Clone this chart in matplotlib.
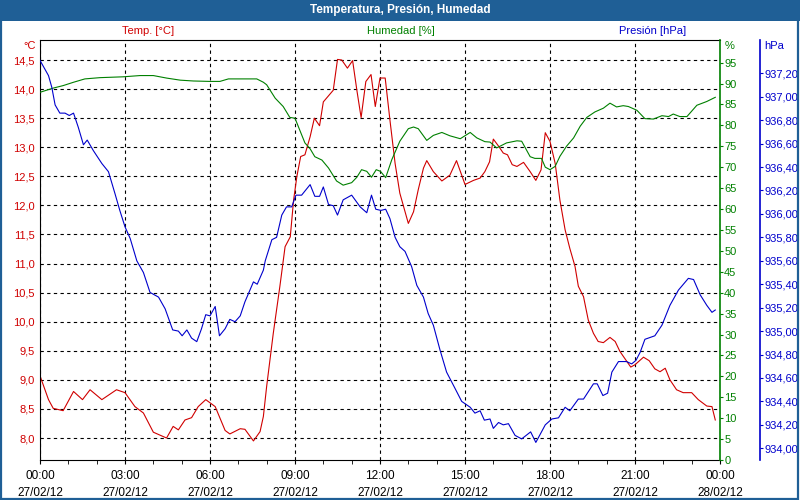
import matplotlib
matplotlib.use("Agg")
import matplotlib.pyplot as plt
from matplotlib.patches import Rectangle
from matplotlib.ticker import FuncFormatter, MultipleLocator

plt.rcParams["font.family"] = ["Liberation Sans", "DejaVu Sans"]

# minutes since 27/02/12 00:00 and readings
temp_min = [0, 18, 28, 49, 71, 90, 106, 131, 162, 180, 201, 219, 240, 268, 282, 293,
            307, 321, 335, 351, 371, 392, 402, 424, 434, 452, 466, 473, 480, 494, 508,
            519, 530, 537, 544, 552, 561, 572, 581, 592, 600, 621, 630, 639, 651, 662,
            671, 680, 690, 701, 710, 720, 731, 741, 752, 762, 780, 791, 801, 812, 819,
            833, 851, 868, 882, 900, 918, 932, 942, 952, 960, 971, 981, 990, 1000, 1010,
            1024, 1038, 1050, 1061, 1070, 1080, 1091, 1101, 1112, 1122, 1133, 1140, 1151,
            1161, 1172, 1182, 1193, 1207, 1218, 1228, 1239, 1251, 1260, 1278, 1290, 1302,
            1313, 1324, 1334, 1348, 1362, 1380, 1394, 1412, 1423, 1430]
temp_val = [9.07, 8.66, 8.51, 8.47, 8.80, 8.66, 8.83, 8.66, 8.83, 8.78, 8.54, 8.43, 8.10,
            8.00, 8.20, 8.14, 8.31, 8.35, 8.54, 8.66, 8.54, 8.13, 8.07, 8.16, 8.15, 7.95,
            8.11, 8.37, 8.89, 9.80, 10.61, 11.29, 11.46, 12.09, 12.50, 12.84, 12.87, 13.18,
            13.50, 13.37, 13.78, 13.98, 14.51, 14.50, 14.36, 14.49, 13.98, 13.51, 14.13,
            14.25, 13.70, 14.19, 14.19, 13.47, 12.72, 12.21, 11.69, 11.89, 12.27, 12.64,
            12.77, 12.58, 12.42, 12.52, 12.77, 12.36, 12.43, 12.47, 12.58, 12.75, 13.14,
            13.02, 12.90, 12.87, 12.70, 12.67, 12.74, 12.58, 12.43, 12.61, 13.25, 13.10,
            12.72, 12.09, 11.58, 11.26, 10.95, 10.61, 10.43, 10.03, 9.80, 9.66, 9.64, 9.73,
            9.66, 9.49, 9.36, 9.22, 9.26, 9.39, 9.33, 9.19, 9.14, 9.20, 9.00, 8.83, 8.78,
            8.78, 8.66, 8.55, 8.54, 8.31]

hum_min = [0, 28, 49, 71, 95, 127, 176, 212, 240, 268, 297, 325, 360, 381, 399, 424, 459,
           473, 480, 498, 515, 529, 540, 551, 561, 572, 582, 597, 611, 628, 642, 660, 671,
           681, 692, 702, 712, 721, 732, 745, 762, 780, 791, 801, 819, 833, 851, 868, 890,
           911, 925, 942, 953, 967, 988, 1010, 1020, 1038, 1048, 1062, 1070, 1080, 1091,
           1101, 1115, 1130, 1144, 1158, 1175, 1193, 1207, 1221, 1235, 1246, 1264, 1281,
           1299, 1317, 1331, 1341, 1355, 1370, 1391, 1412, 1430]
hum_val = [87.9, 88.9, 89.5, 90.3, 91.1, 91.4, 91.6, 91.9, 91.9, 91.3, 90.8, 90.6, 90.5,
           90.5, 91.1, 91.1, 91.1, 90.3, 89.7, 86.5, 84.5, 81.9, 81.7, 78.6, 75.8, 74.4,
           72.5, 71.7, 69.8, 66.7, 65.7, 66.3, 67.6, 69.4, 69.0, 67.6, 69.4, 69.0, 67.5,
           71.8, 76.2, 79.2, 79.6, 79.2, 76.4, 77.6, 78.3, 77.5, 76.8, 78.3, 77.0, 76.1,
           76.0, 74.6, 75.8, 76.3, 76.2, 72.5, 72.1, 72.1, 70.0, 69.4, 70.2, 72.6, 75.0,
           77.0, 79.8, 81.9, 83.2, 84.1, 85.3, 84.4, 84.7, 84.5, 83.6, 81.6, 81.5, 82.3,
           82.1, 82.7, 82.1, 82.1, 84.8, 85.7, 86.7]

pres_min = [0, 18, 25, 32, 42, 53, 62, 71, 81, 92, 100, 113, 131, 145, 159, 169, 180, 191,
            205, 219, 233, 251, 265, 281, 293, 301, 311, 321, 332, 342, 351, 360, 371, 380,
            392, 402, 413, 424, 434, 452, 460, 473, 477, 491, 501, 512, 522, 533, 542, 554,
            572, 582, 592, 600, 611, 621, 630, 642, 660, 678, 692, 702, 711, 722, 732, 741,
            752, 762, 773, 787, 798, 812, 822, 833, 847, 861, 879, 893, 911, 921, 932, 941,
            953, 960, 971, 981, 992, 1006, 1020, 1039, 1050, 1070, 1084, 1098, 1112, 1122,
            1140, 1151, 1172, 1180, 1192, 1202, 1211, 1225, 1242, 1253, 1262, 1271, 1281,
            1302, 1317, 1334, 1352, 1373, 1384, 1398, 1412, 1423, 1430]
pres_val = [937.31, 937.18, 937.08, 936.93, 936.86, 936.86, 936.84, 936.86, 936.74, 936.59,
            936.63, 936.54, 936.43, 936.36, 936.17, 936.03, 935.89, 935.79, 935.60, 935.50,
            935.33, 935.29, 935.19, 935.01, 935.00, 934.96, 935.01, 934.94, 934.91, 935.02,
            935.14, 935.13, 935.21, 934.96, 935.02, 935.10, 935.08, 935.13, 935.25, 935.42,
            935.40, 935.52, 935.60, 935.78, 935.80, 935.99, 936.06, 936.06, 936.16, 936.16,
            936.25, 936.15, 936.15, 936.23, 936.08, 936.07, 935.99, 936.12, 936.16, 936.06,
            936.01, 936.16, 936.04, 936.03, 936.04, 935.96, 935.80, 935.72, 935.68, 935.55,
            935.39, 935.29, 935.15, 935.05, 934.84, 934.65, 934.51, 934.40, 934.35, 934.30,
            934.32, 934.24, 934.25, 934.17, 934.22, 934.20, 934.21, 934.11, 934.08, 934.14,
            934.05, 934.20, 934.25, 934.26, 934.35, 934.32, 934.42, 934.42, 934.55, 934.55,
            934.45, 934.47, 934.65, 934.74, 934.74, 934.72, 934.75, 934.82, 934.93, 934.96,
            935.05, 935.22, 935.35, 935.45, 935.44, 935.31, 935.22, 935.16, 935.18]

x_ticks = [0, 3, 6, 9, 12, 15, 18, 21, 24]
x_labels = ["00:00\n27/02/12", "03:00\n27/02/12", "06:00\n27/02/12", "09:00\n27/02/12",
            "12:00\n27/02/12", "15:00\n27/02/12", "18:00\n27/02/12", "21:00\n27/02/12",
            "00:00\n28/02/12"]

RED = "#d00000"
GREEN = "#008000"
BLUE = "#0000cc"
BAND = "#1f5f96"
FS = 8


def comma(decimals):
    return FuncFormatter(lambda v, p: f"{v:.{decimals}f}".replace(".", ","))


fig = plt.figure(figsize=(8, 5), dpi=100, facecolor="white")

# title band and frame
fig.add_artist(Rectangle((0, 1 - 21 / 500), 1, 21 / 500, transform=fig.transFigure,
                         facecolor=BAND, edgecolor="none"))
fig.add_artist(Rectangle((0.001, 0.002), 0.997, 0.996, transform=fig.transFigure,
                         facecolor="none", edgecolor=BAND, linewidth=1.6))
fig.text(0.5, 1 - 10 / 500, "Temperatura, Presión, Humedad", color="white",
         fontsize=8.5, fontweight="bold", ha="center", va="center")

ax = fig.add_axes([40 / 800, 40 / 500, 680 / 800, 420 / 500])
ax_h = ax.twinx()
ax_p = ax.twinx()
# 40 px to the right of the humidity spine (value is in points)
ax_p.spines["right"].set_position(("outward", 40 * 72 / 100))

# temperature axis
ax.plot([m / 60 for m in temp_min], temp_val, color=RED, linewidth=0.8)
ax.set_xlim(0, 24)
ax.set_ylim(7.622, 14.844)
ax.yaxis.set_major_locator(MultipleLocator(0.5))
ax.yaxis.set_major_formatter(comma(1))
ax.tick_params(axis="y", colors=RED, labelsize=FS, length=0, pad=4)
ax.set_xticks(x_ticks)
ax.set_xticklabels(x_labels, fontsize=8.5, linespacing=1.55)
ax.xaxis.set_minor_locator(MultipleLocator(1))
ax.tick_params(axis="x", which="both", direction="out", length=3, color="black", pad=4.5)
ax.grid(True, color="black", linestyle=(0, (3, 3)), linewidth=0.8)
for s in ("left", "bottom", "top"):
    ax.spines[s].set_color("black")
ax.spines["right"].set_visible(False)

# humidity axis
ax_h.plot([m / 60 for m in hum_min], hum_val, color=GREEN, linewidth=0.8)
ax_h.set_ylim(0, 100.4)
ax_h.set_yticks(range(0, 100, 5))
ax_h.tick_params(axis="y", colors=GREEN, labelsize=FS, direction="out", length=2.5, pad=0.5)
ax_h.spines["right"].set_color(GREEN)
ax_h.spines["right"].set_linewidth(1.2)
for s in ("left", "top", "bottom"):
    ax_h.spines[s].set_visible(False)

# pressure axis
ax_p.plot([m / 60 for m in pres_min], pres_val, color=BLUE, linewidth=0.8)
ax_p.set_ylim(933.90, 937.484)
ax_p.set_yticks([934.0 + 0.2 * i for i in range(17)])
ax_p.yaxis.set_major_formatter(comma(2))
ax_p.tick_params(axis="y", colors=BLUE, labelsize=FS, direction="out", length=2.5, pad=0.5)
ax_p.spines["right"].set_color(BLUE)
ax_p.spines["right"].set_linewidth(1.2)
for s in ("left", "top", "bottom"):
    ax_p.spines[s].set_visible(False)

# unit labels
fig.text(36 / 800, 1 - 46 / 500, "°C", color=RED, fontsize=FS, ha="right", va="center")
fig.text(725 / 800, 1 - 46 / 500, "%", color=GREEN, fontsize=FS, ha="left", va="center")
fig.text(764 / 800, 1 - 46 / 500, "hPa", color=BLUE, fontsize=FS, ha="left", va="center")
fig.text(148 / 800, 1 - 31 / 500, "Temp. [°C]", color=RED, fontsize=FS, ha="center", va="center")
fig.text(401 / 800, 1 - 31 / 500, "Humedad [%]", color=GREEN, fontsize=FS, ha="center", va="center")
fig.text(653 / 800, 1 - 31 / 500, "Presión [hPa]", color=BLUE, fontsize=FS, ha="center", va="center")

fig.savefig("out.png", dpi=100, facecolor="white")
